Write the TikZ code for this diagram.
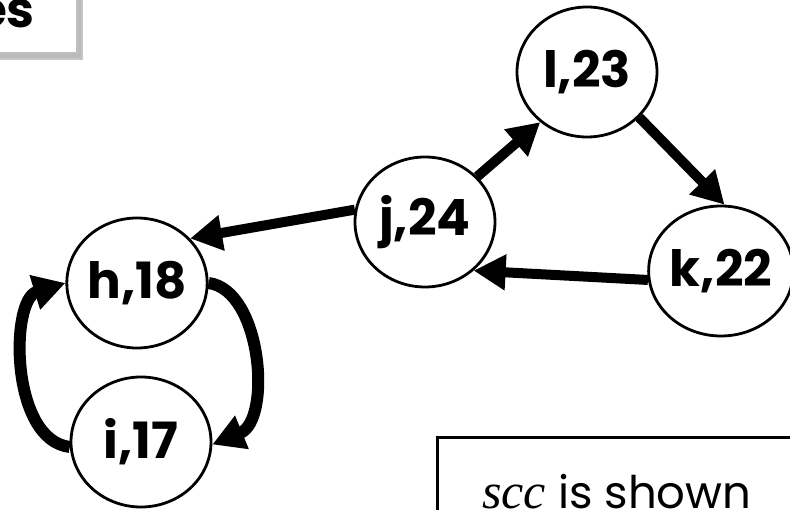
\documentclass[tikz,border=0pt]{standalone}
\usepackage{fontspec}
\setmainfont{Poppins}
\newfontfamily\serifit{Liberation Serif}
\usetikzlibrary{shapes.geometric,arrows.meta}
\tikzset{
  vertex/.style={ellipse, draw=black, line width=2.8pt, fill=white,
    minimum width=140pt, minimum height=130pt, inner sep=0pt,
    font=\fontsize{50}{50}\selectfont\bfseries},
  edge/.style={line width=10pt, -{Triangle[length=32pt,width=34pt]}},
  loopedge/.style={line width=12pt, -{Triangle[length=32pt,width=34pt]}},
}
\begin{document}
\begin{tikzpicture}[x=1pt,y=-1pt]
\useasboundingbox (0,0) rectangle (790,510);
% title box at the upper left, mostly off the page
\fill[black!45, opacity=0.5] (-10,-10) rectangle (83,60);
\fill[black!30, opacity=0.5] (-10,-10) rectangle (81,58);
\draw[draw=black!25, fill=white, line width=1.5pt] (-10,-10) rectangle (77,53);
\node[anchor=base east, inner sep=0pt, font=\fontsize{50}{50}\selectfont\bfseries] (title) at (35,28) {es};
% vertices
\node[vertex] (l) at (587,72) {l,23};
\node[vertex] (j) at (425,222) {j,24};
\node[vertex] (k) at (721,271) {k,22};
\node[vertex] (h) at (137,283) {h,18};
\node[vertex] (i) at (141,442) {i,17};
% edges
\draw[edge] (j.170) -- (h.40);
\draw[edge] (j.41) -- (l.227);
\draw[edge] (l.319) -- (k.87);
\draw[edge] (k.187) -- (j.315);
\draw[loopedge] (h.0) .. controls (262,290) and (272,420) .. (i.358);
\draw[loopedge] (i.184) .. controls (10,440) and (10,300) .. (h.180);
% note box at the lower right
\draw[line width=3pt, fill=white] (437,438) rectangle (800,530);
\node[anchor=base west, inner sep=0pt, font=\fontsize{45}{45}\selectfont] (note) at (482,508) {{\serifit\itshape\fontsize{50}{50}\selectfont scc} is shown};
\end{tikzpicture}
\end{document}
